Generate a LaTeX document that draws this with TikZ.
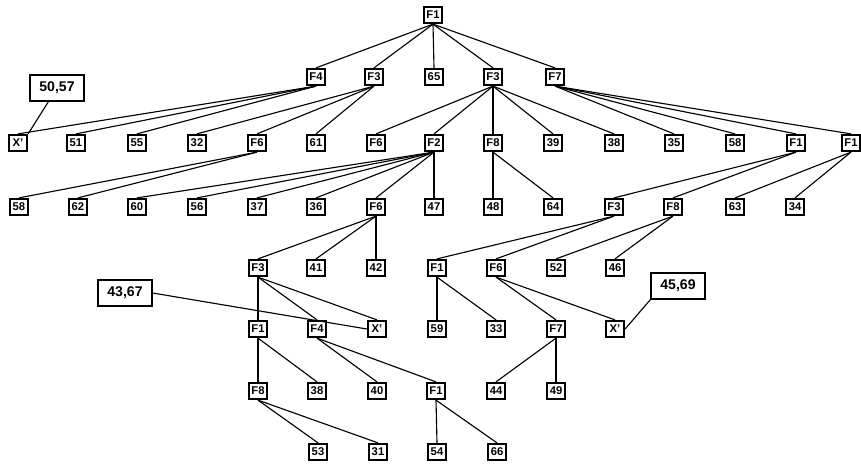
\documentclass[tikz,border=0pt]{standalone}
\usepackage{fontspec}
\setmainfont{Liberation Sans}

\tikzset{
  fbox/.style={draw, line width=1.6pt, inner sep=0pt, minimum width=18\ppx, minimum height=16\ppx, font=\bfseries\footnotesize},
  tagbox/.style={draw, line width=0.9pt, inner sep=0pt, minimum width=54\ppx, minimum height=26\ppx, font=\bfseries},
  link/.style={line width=0.8pt}
}
\newlength{\ppx}
\setlength{\ppx}{0.025cm}

\begin{document}
\begin{tikzpicture}[x=0.025cm,y=-0.025cm]

    \useasboundingbox (0,0) rectangle (861,463);

    % Root
    \node[fbox] (r) at (433,15) {F1};

    % Level 1
    \node[fbox] (a) at (316,77) {F4};
    \node[fbox] (b) at (374,77) {F3};
    \node[fbox] (c) at (434,77) {65};
    \node[fbox] (d) at (493,77) {F3};
    \node[fbox] (e) at (555,77) {F7};

    % Level 2
    \node[fbox] (a1) at (18,143) {X'};
    \node[fbox] (a2) at (76,143) {51};
    \node[fbox] (a3) at (137,143) {55};
    \node[fbox] (b1) at (197,143) {32};
    \node[fbox] (b2) at (257,143) {F6};
    \node[fbox] (b3) at (316,143) {61};
    \node[fbox] (d1) at (376,143) {F6};
    \node[fbox] (d2) at (434,143) {F2};
    \node[fbox] (d3) at (493,143) {F8};
    \node[fbox] (d4) at (553,143) {39};
    \node[fbox] (d5) at (614,143) {38};
    \node[fbox] (e1) at (674,143) {35};
    \node[fbox] (e2) at (735,143) {58};
    \node[fbox] (e3) at (796,143) {F1};
    \node[fbox] (e4) at (851,143) {F1};

    % Level 3
    \node[fbox] (b21) at (19,207) {58};
    \node[fbox] (b22) at (78,207) {62};
    \node[fbox] (d21) at (137,207) {60};
    \node[fbox] (d22) at (197,207) {56};
    \node[fbox] (d23) at (257,207) {37};
    \node[fbox] (d24) at (316,207) {36};
    \node[fbox] (d25) at (376,207) {F6};
    \node[fbox] (d26) at (434,207) {47};
    \node[fbox] (d31) at (493,207) {48};
    \node[fbox] (d32) at (553,207) {64};
    \node[fbox] (e31) at (614,207) {F3};
    \node[fbox] (e32) at (673,207) {F8};
    \node[fbox] (e41) at (735,207) {63};
    \node[fbox] (e42) at (795,207) {34};

    % Level 4
    \node[fbox] (g1) at (258,268) {F3};
    \node[fbox] (g2) at (316,268) {41};
    \node[fbox] (g3) at (376,268) {42};
    \node[fbox] (h1) at (437,268) {F1};
    \node[fbox] (h2) at (496,268) {F6};
    \node[fbox] (k1) at (556,268) {52};
    \node[fbox] (k2) at (615,268) {46};

    % Level 5
    \node[fbox] (g11) at (258,329) {F1};
    \node[fbox] (g12) at (317,329) {F4};
    \node[fbox] (g13) at (377,329) {X'};
    \node[fbox] (h11) at (437,329) {59};
    \node[fbox] (h12) at (496,329) {33};
    \node[fbox] (h21) at (556,329) {F7};
    \node[fbox] (h22) at (615,329) {X'};

    % Level 6
    \node[fbox] (m1) at (258,391) {F8};
    \node[fbox] (m2) at (317,391) {38};
    \node[fbox] (m3) at (377,391) {40};
    \node[fbox] (m4) at (436,391) {F1};
    \node[fbox] (m5) at (496,391) {44};
    \node[fbox] (m6) at (556,391) {49};

    % Level 7
    \node[fbox] (n1) at (318,452) {53};
    \node[fbox] (n2) at (378,452) {31};
    \node[fbox] (n3) at (437,452) {54};
    \node[fbox] (n4) at (497,452) {66};

    % Tag boxes
    \node[tagbox] (t1) at (57,88) {50,57};
    \node[tagbox] (t2) at (125,293) {43,67};
    \node[tagbox] (t3) at (678,286) {45,69};

    % Tree links
    \foreach \p/\kids in {r/{a,b,c,d,e}, a/{a1,a2,a3}, b/{b1,b2,b3},
                          d/{d1,d2,d3,d4,d5}, e/{e1,e2,e3,e4},
                          b2/{b21,b22}, d2/{d21,d22,d23,d24,d25,d26},
                          d3/{d31,d32}, e3/{e31,e32}, e4/{e41,e42},
                          d25/{g1,g2,g3}, e31/{h1,h2}, e32/{k1,k2},
                          g1/{g11,g12,g13}, h1/{h11,h12}, h2/{h21,h22},
                          g11/{m1,m2}, g12/{m3,m4}, h21/{m5,m6},
                          m1/{n1,n2}, m4/{n3,n4}}
      \foreach \k in \kids
        \draw[link] (\p.south) -- (\k.north);

    % Tags to X'
    \draw[link] (t1) -- (a1.north east);
    \draw[link] (t2.east) -- (g13.west);
    \draw[link] (t3.south west) -- (h22.east);

\end{tikzpicture}
\end{document}
